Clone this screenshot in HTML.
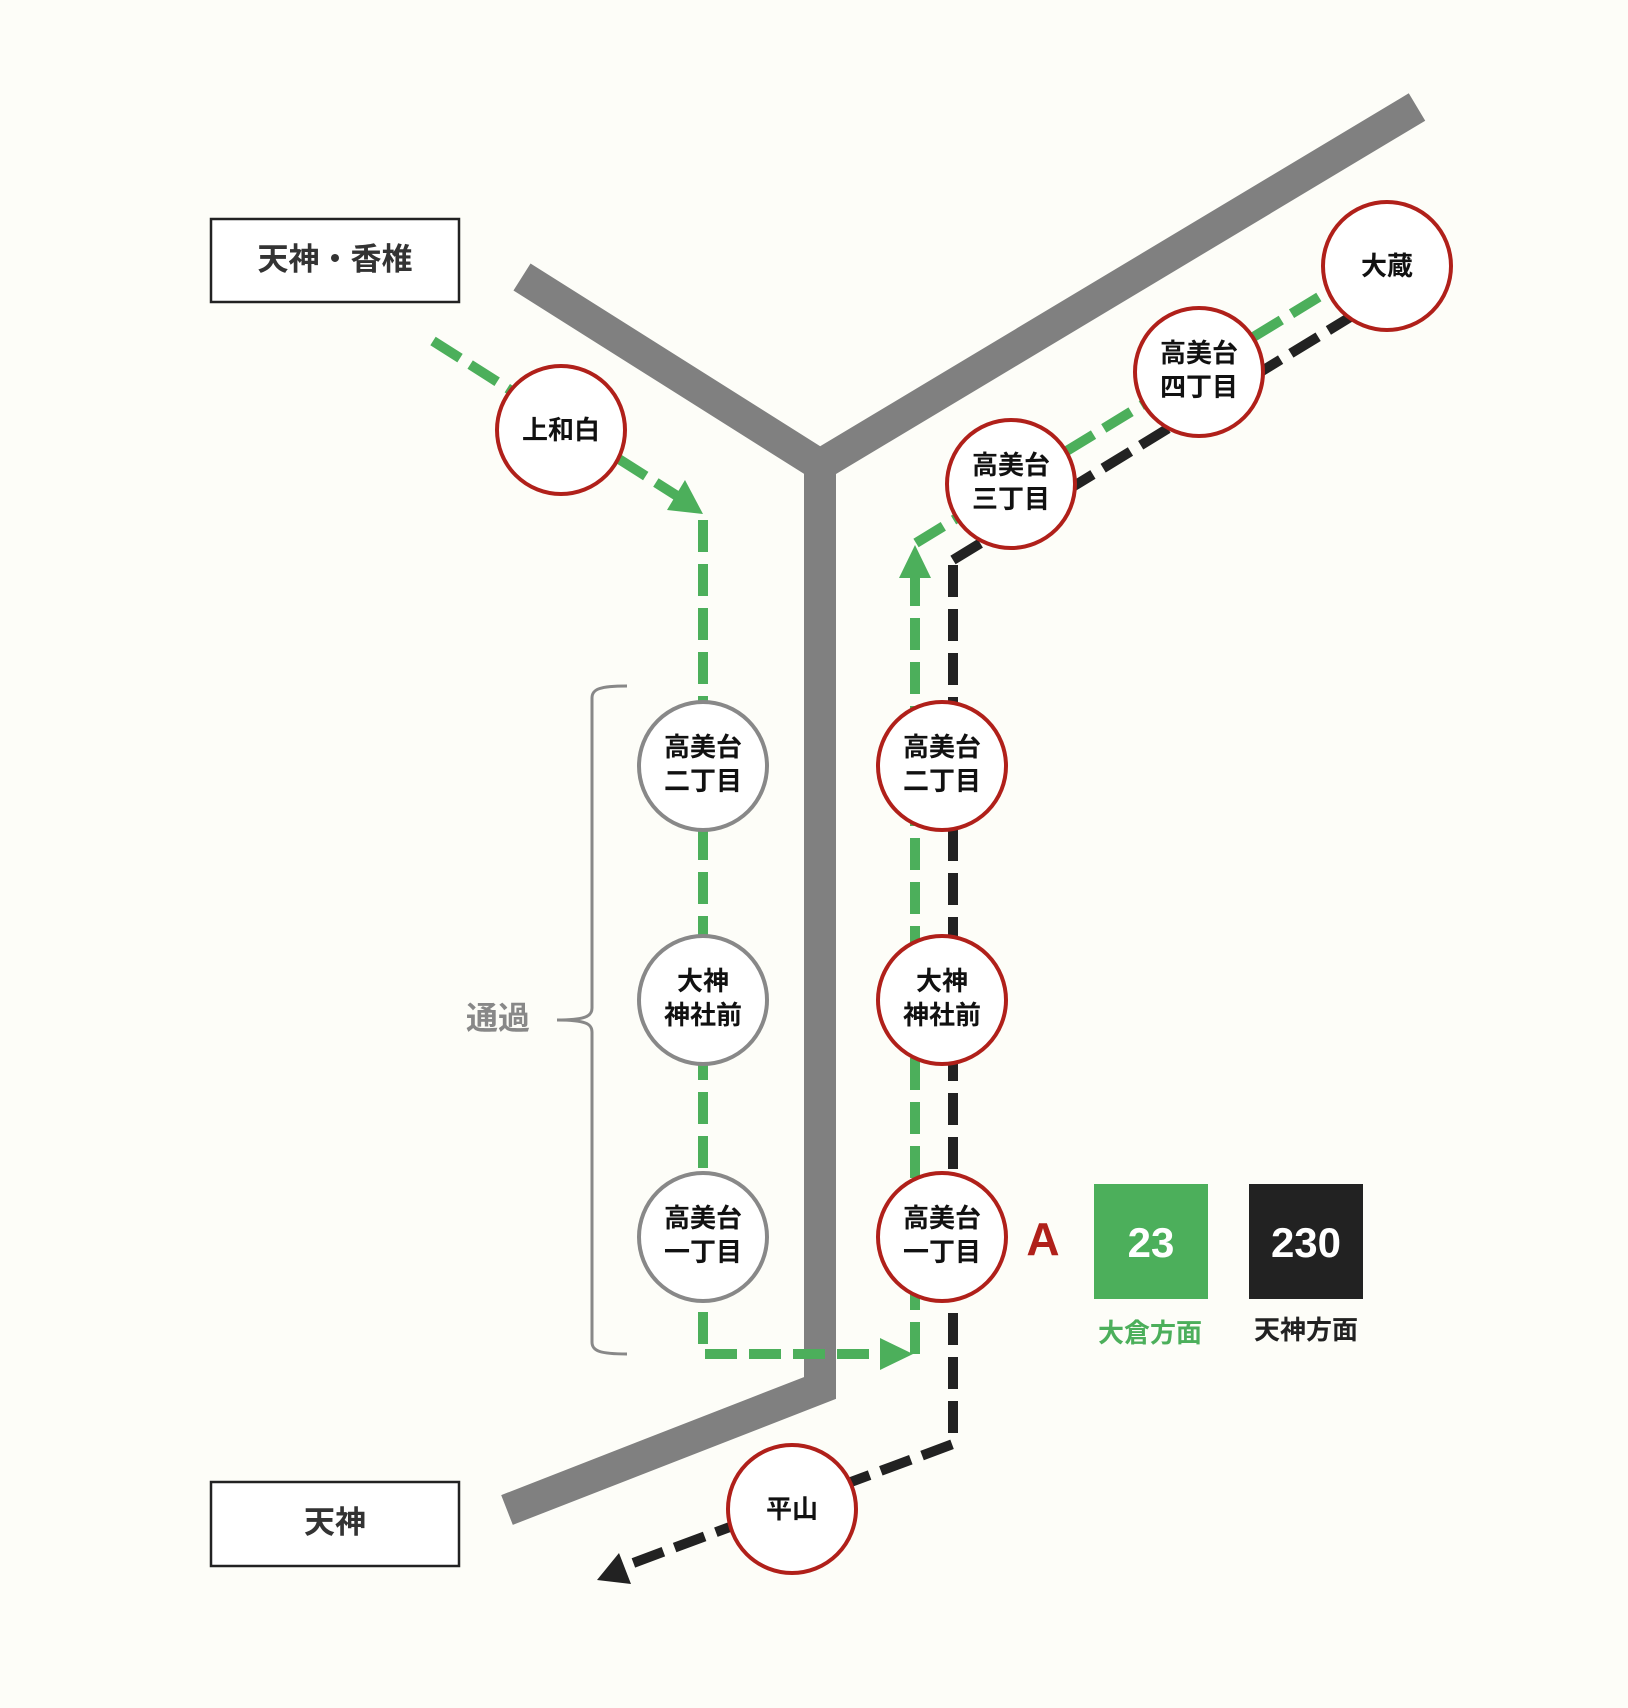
<!DOCTYPE html>
<html><head><meta charset="utf-8"><style>
html,body{margin:0;padding:0;background:#fdfdf8;}
svg{display:block;}
text{font-family:"Liberation Sans","Noto Sans CJK JP",sans-serif;font-weight:bold;}
</style></head><body>
<svg width="1628" height="1708" viewBox="0 0 1628 1708" xmlns="http://www.w3.org/2000/svg">
<rect width="1628" height="1708" fill="#fdfdf8"/>
<!-- gray road -->
<polyline points="522,277 820,465 1417,107" fill="none" stroke="#808080" stroke-width="32" stroke-linejoin="miter"/>
<polyline points="820,465 820,1388 507,1510" fill="none" stroke="#808080" stroke-width="32" stroke-linejoin="miter"/>
<!-- boxes -->
<rect x="211" y="219" width="248" height="83" fill="#fff" stroke="#222" stroke-width="2.5"/>
<text x="335" y="270" font-size="31" fill="#333" text-anchor="middle">天神・香椎</text>
<rect x="211" y="1482" width="248" height="84" fill="#fff" stroke="#222" stroke-width="2.5"/>
<text x="335" y="1533" font-size="31" fill="#333" text-anchor="middle">天神</text>
<!-- brace -->
<path d="M627,686 C600,686 592,689 592,698 L592,1008 C592,1016 586,1020 557,1020 C586,1020 592,1024 592,1032 L592,1342 C592,1351 600,1354 627,1354" fill="none" stroke="#888" stroke-width="3"/>
<text x="498" y="1029" font-size="32" fill="#888" text-anchor="middle">通過</text>
<!-- green lines -->
<g fill="none" stroke="#4caf5b" stroke-width="10" stroke-dasharray="32 12">
<line x1="433" y1="341" x2="685" y2="501"/>
<polyline points="703,520 703,1354 885,1354"/>
<polyline points="915,1354 915,570"/>
<line x1="916" y1="543" x2="1350" y2="278"/>
</g>
<polygon points="703,514 667,510 685,480" fill="#4caf5b"/>
<polygon points="913,1354 880,1338 880,1370" fill="#4caf5b"/>
<polygon points="915,545 899,578 931,578" fill="#4caf5b"/>
<!-- black lines -->
<g fill="none" stroke="#222" stroke-width="10" stroke-dasharray="32 12">
<line x1="953" y1="560" x2="1370" y2="305"/>
<polyline points="953,565 953,1444 625,1566"/>
</g>
<polygon points="597,1580 619,1553 631,1584" fill="#222"/>
<!-- circles -->
<g fill="#fff" stroke-width="4">
<circle cx="561" cy="430" r="64" stroke="#b0201a"/>
<circle cx="1387" cy="266" r="64" stroke="#b0201a"/>
<circle cx="1199" cy="372" r="64" stroke="#b0201a"/>
<circle cx="1011" cy="484" r="64" stroke="#b0201a"/>
<circle cx="703" cy="766" r="64" stroke="#888"/>
<circle cx="703" cy="1000" r="64" stroke="#888"/>
<circle cx="703" cy="1237" r="64" stroke="#888"/>
<circle cx="942" cy="766" r="64" stroke="#b0201a"/>
<circle cx="942" cy="1000" r="64" stroke="#b0201a"/>
<circle cx="942" cy="1237" r="64" stroke="#b0201a"/>
<circle cx="792" cy="1509" r="64" stroke="#b0201a"/>
</g>
<g font-size="26" fill="#111" text-anchor="middle">
<text x="561" y="439">上和白</text>
<text x="1387" y="275">大蔵</text>
<text x="1199" y="362">高美台</text><text x="1199" y="396">四丁目</text>
<text x="1011" y="474">高美台</text><text x="1011" y="508">三丁目</text>
<text x="703" y="756">高美台</text><text x="703" y="790">二丁目</text>
<text x="703" y="990">大神</text><text x="703" y="1024">神社前</text>
<text x="703" y="1227">高美台</text><text x="703" y="1261">一丁目</text>
<text x="942" y="756">高美台</text><text x="942" y="790">二丁目</text>
<text x="942" y="990">大神</text><text x="942" y="1024">神社前</text>
<text x="942" y="1227">高美台</text><text x="942" y="1261">一丁目</text>
<text x="792" y="1518">平山</text>
</g>
<!-- legend -->
<text x="1043" y="1255" font-size="46" fill="#b0201a" text-anchor="middle">A</text>
<rect x="1094" y="1184" width="114" height="115" fill="#4caf5b"/>
<text x="1151" y="1257" font-size="42" fill="#fff" text-anchor="middle">23</text>
<rect x="1249" y="1184" width="114" height="115" fill="#222"/>
<text x="1306" y="1257" font-size="42" fill="#fff" text-anchor="middle">230</text>
<text x="1150" y="1342" font-size="26" fill="#4caf5b" text-anchor="middle">大倉方面</text>
<text x="1306" y="1339" font-size="26" fill="#222" text-anchor="middle">天神方面</text>
</svg>
</body></html>
